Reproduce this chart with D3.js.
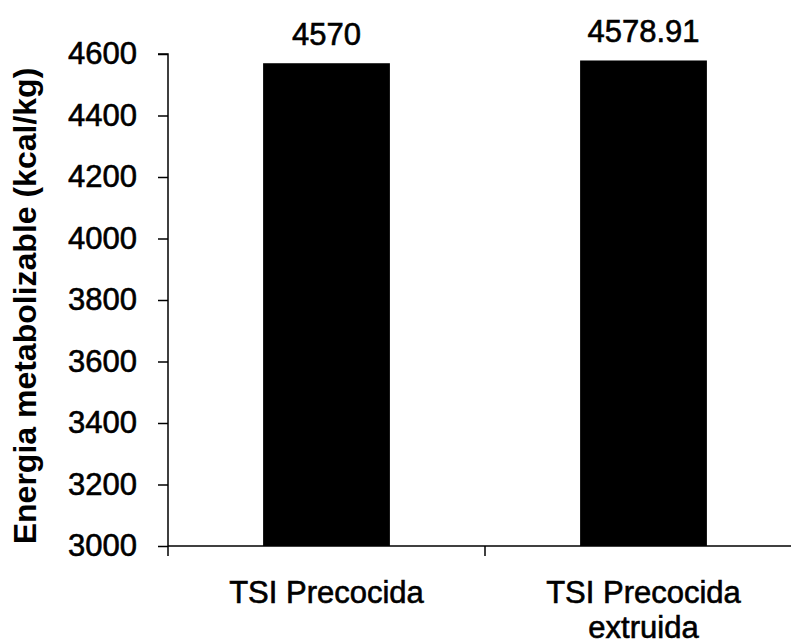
<!DOCTYPE html>
<html>
<head>
<meta charset="utf-8">
<script src="https://cdn.jsdelivr.net/npm/d3@7"></script>
<style>
  body { margin: 0; background: #fff; }
  svg { display: block; font-family: Arial, "Liberation Sans", sans-serif; }
  .heavy { stroke: #000; stroke-width: 0.6px; }
</style>
</head>
<body>
<div id="chart"></div>
<script>
// chart data
var categories = ["TSI Precocida", "TSI Precocida extruida"];
var categoryLines = [["TSI Precocida"], ["TSI Precocida", "extruida"]];
var values = [4570, 4578.91];
var valueLabels = ["4570", "4578.91"];
var yTicks = [3000, 3200, 3400, 3600, 3800, 4000, 4200, 4400, 4600];
var yTitle = "Energia metabolizable (kcal/kg)";

var W = 791, H = 644;
var plotL = 168, plotR = 802, plotT = 54, plotB = 546;

var svg = d3.select("#chart").append("svg")
    .attr("width", W)
    .attr("height", H);

var x = d3.scaleBand().domain(categories).range([plotL, plotR]).paddingInner(0).paddingOuter(0);
var xb = d3.scaleBand().domain(categories).range([plotL, plotR]).paddingInner(0.6).paddingOuter(0.3);
var y = d3.scaleLinear().domain([3000, 4600]).range([plotB, plotT]);

// bars
svg.selectAll(".bar")
    .data(values)
  .enter().append("rect")
    .attr("class", "bar")
    .attr("x", (d, i) => xb(categories[i]))
    .attr("y", (d) => y(d))
    .attr("width", xb.bandwidth())
    .attr("height", (d) => y(3000) - y(d))
    .attr("fill", "#000");

// value labels
svg.selectAll(".vlabel")
    .data(values)
  .enter().append("text")
    .attr("class", "vlabel heavy")
    .attr("x", (d, i) => xb(categories[i]) + xb.bandwidth() / 2)
    .attr("y", (d) => y(d) - 18)
    .attr("text-anchor", "middle")
    .style("font-size", "31px")
    .text((d, i) => valueLabels[i]);

// y axis
var yAxis = d3.axisLeft(y).tickValues(yTicks).tickSize(10).tickPadding(21).tickFormat(d3.format("d"));
var gy = svg.append("g")
    .attr("transform", "translate(" + plotL + ",0)")
    .call(yAxis);
gy.select(".domain").attr("stroke-width", 1.5).attr("d", "M-10," + plotT + "H0V" + (plotB + 10));
gy.selectAll(".tick line").attr("stroke-width", 1.5);
gy.selectAll(".tick text")
    .attr("class", "heavy")
    .style("font-size", "31px")
    .attr("fill", "#000");
gy.attr("font-family", null).attr("font-size", null);

// x axis
var xAxis = d3.axisBottom(x).tickSize(0).tickFormat("");
var gx = svg.append("g")
    .attr("transform", "translate(0," + plotB + ")")
    .call(xAxis);
gx.select(".domain").attr("stroke-width", 1.5).attr("d", "M" + plotL + ",0H" + plotR);
gx.selectAll(".bound")
    .data(categories.slice(1))
  .enter().append("line")
    .attr("class", "bound")
    .attr("x1", (d) => x(d)).attr("x2", (d) => x(d))
    .attr("y1", 0).attr("y2", 10)
    .attr("stroke", "#000")
    .attr("stroke-width", 1.5);

// category labels
var cl = svg.selectAll(".clabel")
    .data(categories)
  .enter().append("text")
    .attr("class", "clabel heavy")
    .attr("text-anchor", "middle")
    .attr("y", plotB + 57)
    .style("font-size", "31px");
cl.selectAll("tspan")
    .data((d, i) => categoryLines[i].map((t) => ({ t: t, c: d })))
  .enter().append("tspan")
    .attr("x", (d) => x(d.c) + x.bandwidth() / 2)
    .attr("dy", (d, j) => j === 0 ? 0 : 35)
    .text((d) => d.t);

// y title
svg.append("text")
    .attr("transform", "translate(36,306) rotate(-90)")
    .attr("text-anchor", "middle")
    .style("font-size", "32px")
    .style("font-weight", "bold")
    .text(yTitle);
</script>
</body>
</html>
